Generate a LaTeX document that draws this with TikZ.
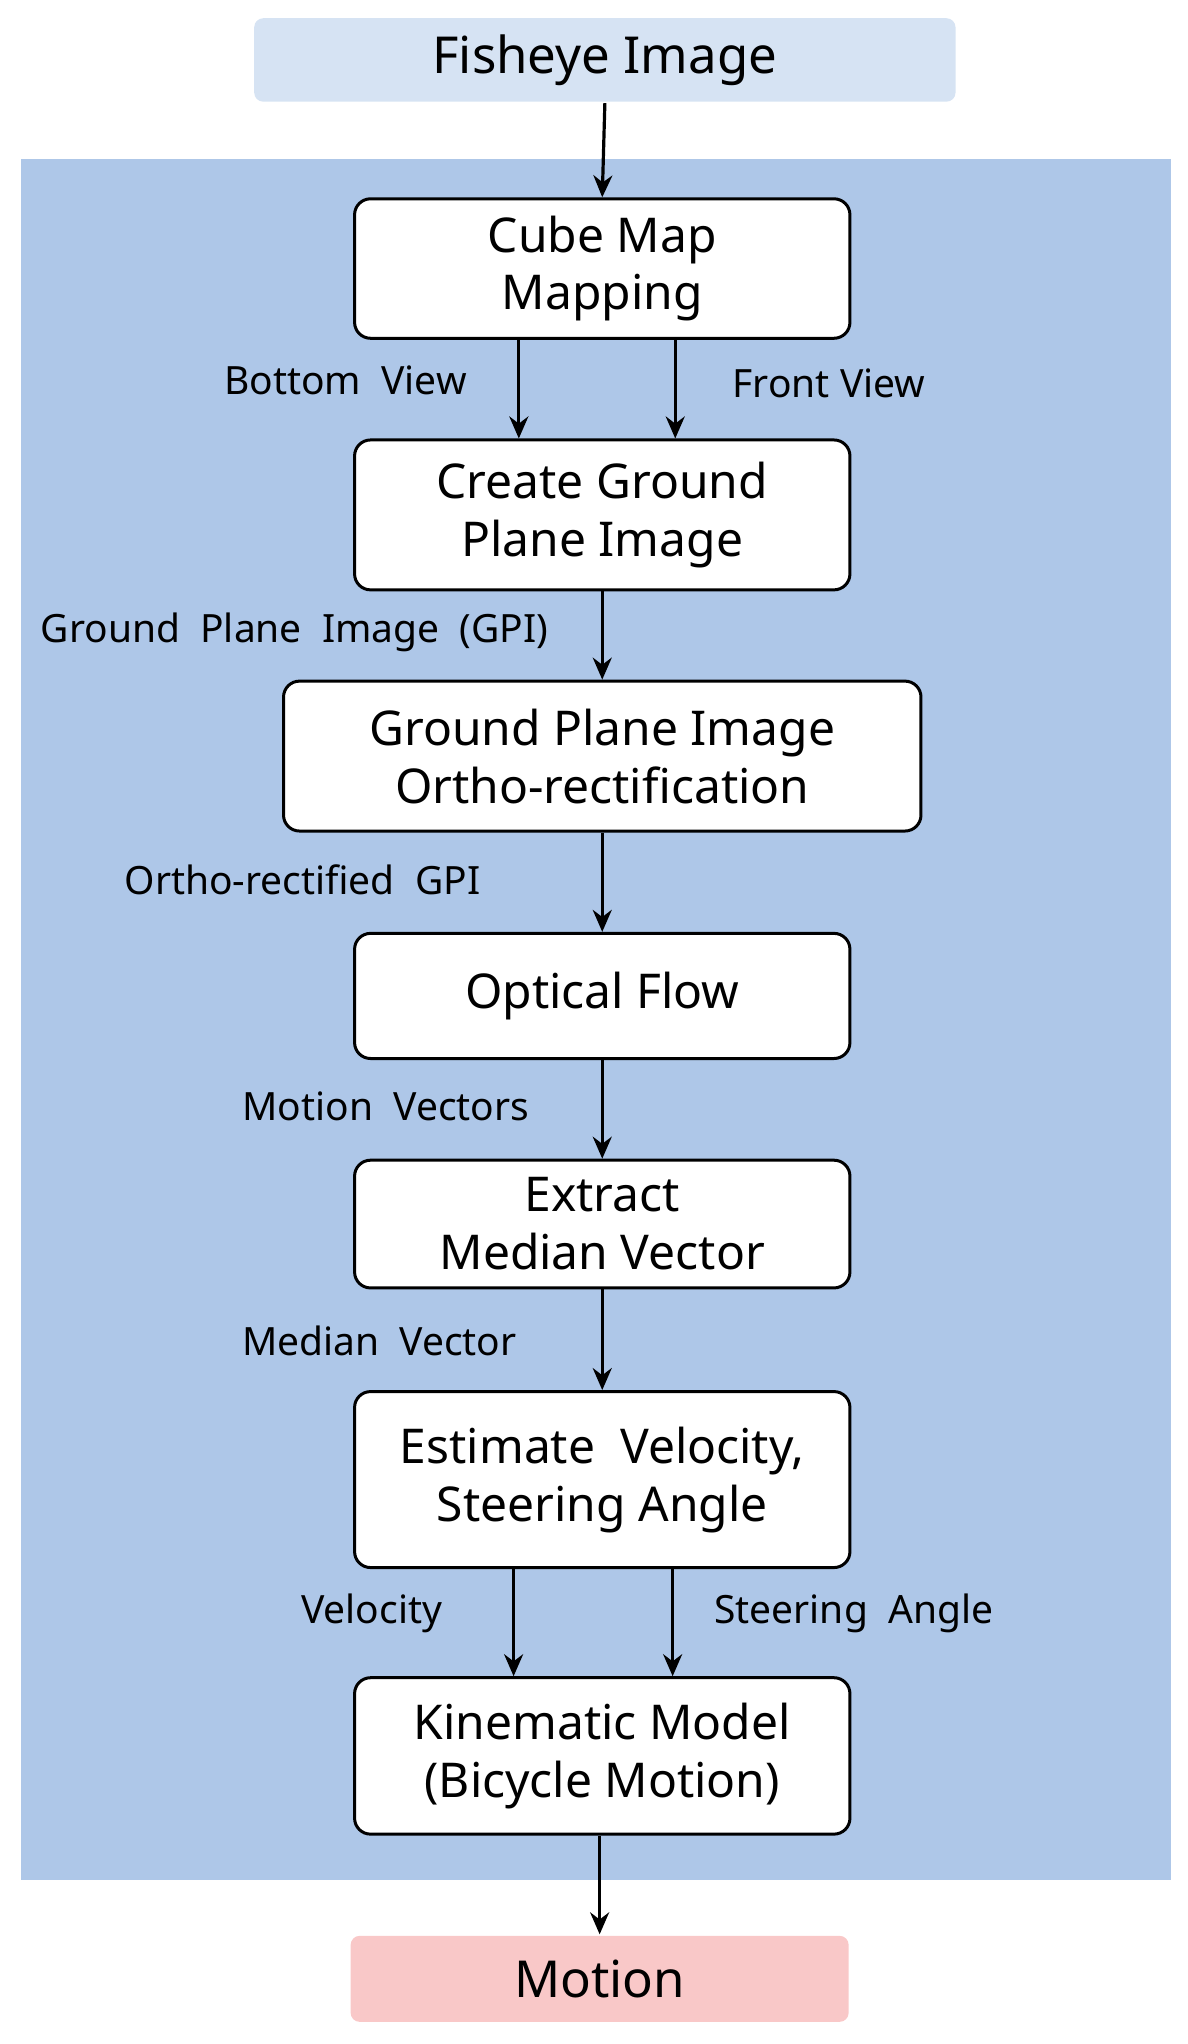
\documentclass[tikz,border=0pt]{standalone}
\usepackage{fontspec}
\setmainfont{Noto Sans}
\usetikzlibrary{arrows.meta}
\begin{document}
\begin{tikzpicture}[x=1.305pt,y=-1.305pt,
  box/.style={draw=black,line width=3pt,fill=white,rounded corners=16pt,align=center,font=\fontsize{48}{58}\selectfont,inner sep=0pt},
  lab/.style={font=\fontsize{39}{44}\selectfont},
  arr/.style={line width=3.2pt,-{Stealth[length=22pt,width=19pt]}}]
\useasboundingbox (0,0) rectangle (911,1568);
\fill[fill={rgb,255:red,174;green,199;blue,232}] (16,122) rectangle (898,1442);
\node[box,draw=none,fill={rgb,255:red,214;green,227;blue,243},rounded corners=9pt,minimum width=538*1.305pt,minimum height=64*1.305pt,font=\fontsize{51}{60}\selectfont] (fe) at (464,46) {Fisheye Image};
\node[box,minimum width=380*1.305pt,minimum height=107*1.305pt] (cm) at (462,206) {Cube Map\\Mapping};
\node[box,minimum width=380*1.305pt,minimum height=115*1.305pt] (cg) at (462,395) {Create Ground\\Plane Image};
\node[box,minimum width=489*1.305pt,minimum height=115*1.305pt] (go) at (462,580) {Ground Plane Image\\Ortho-rectification};
\node[box,minimum width=380*1.305pt,minimum height=96*1.305pt] (of) at (462,764) {Optical Flow};
\node[box,minimum width=380*1.305pt,minimum height=98*1.305pt] (em) at (462,939) {Extract\\Median Vector};
\node[box,minimum width=380*1.305pt,minimum height=135*1.305pt] (ev) at (462,1135) {Estimate\ \ Velocity,\\Steering Angle};
\node[box,minimum width=380*1.305pt,minimum height=120*1.305pt] (km) at (462,1347) {Kinematic Model\\(Bicycle Motion)};
\node[box,draw=none,fill={rgb,255:red,249;green,200;blue,200},rounded corners=9pt,minimum width=382*1.305pt,minimum height=66*1.305pt,font=\fontsize{51}{60}\selectfont] (mo) at (460,1518) {Motion};
\draw[arr] (fe.south) -- (cm.north);
\draw[arr] (cm.south -| 398,0) -- (cg.north -| 398,0);
\draw[arr] (cm.south -| 518,0) -- (cg.north -| 518,0);
\draw[arr] (cg) -- (go);
\draw[arr] (go) -- (of);
\draw[arr] (of) -- (em);
\draw[arr] (em) -- (ev);
\draw[arr] (ev.south -| 394,0) -- (km.north -| 394,0);
\draw[arr] (ev.south -| 516,0) -- (km.north -| 516,0);
\draw[arr] (km.south -| 460,0) -- (mo.north);
\node[lab] (l1) at (265,292) {Bottom\ \ View};
\node[lab] (l2) at (636,294) {Front View};
\node[lab] (l3) at (226,485) {Ground\ \ Plane\ \ Image\ \ (GPI)};
\node[lab] (l4) at (232,675) {Ortho-rectified\ \ GPI};
\node[lab] (l5) at (296,849) {Motion\ \ Vectors};
\node[lab] (l6) at (291,1029) {Median\ \ Vector};
\node[lab] (l7) at (285,1238) {Velocity};
\node[lab] (l8) at (655,1238) {Steering\ \ Angle};
\end{tikzpicture}
\end{document}
